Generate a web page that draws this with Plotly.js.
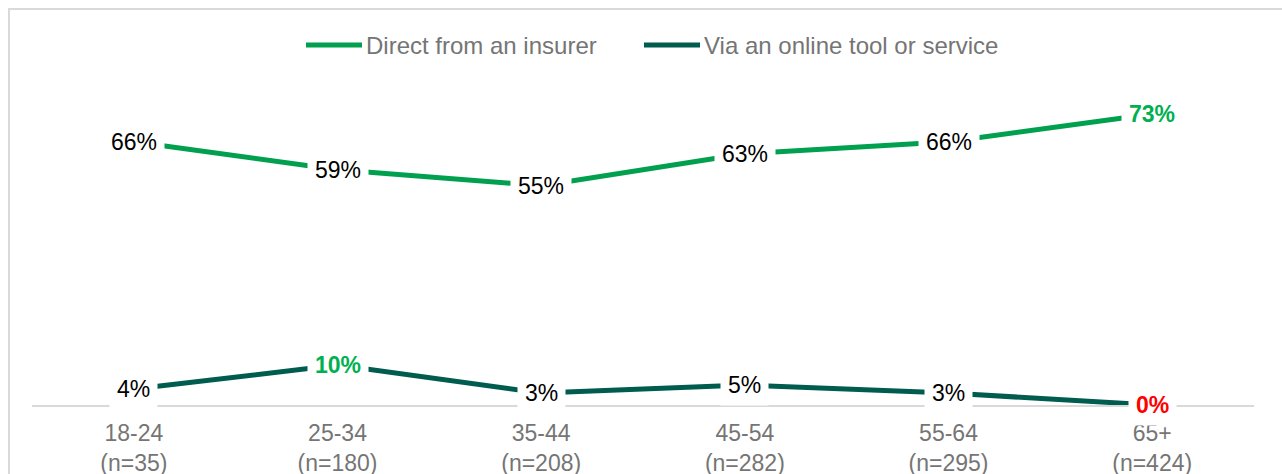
<!DOCTYPE html>
<html>
<head>
<meta charset="utf-8">
<script src="https://cdn.plot.ly/plotly-3.0.1.min.js"></script>
<style>
  html, body { margin: 0; padding: 0; background: #ffffff; overflow: hidden; }
  #frame { position: absolute; left: 8px; top: 8px; width: 1400px; height: 600px;
           border-left: 2px solid #d9d9d9; border-top: 2px solid #d9d9d9; }
  #chart { position: absolute; left: 0; top: 0; width: 1282px; height: 474px; }
</style>
</head>
<body>
<div id="frame"></div>
<div id="chart"></div>
<script>
// ---- data ----
const ageGroups = ["18-24", "25-34", "35-44", "45-54", "55-64", "65+"];
const sampleSizes = ["(n=35)", "(n=180)", "(n=208)", "(n=282)", "(n=295)", "(n=424)"];
const directFromInsurer = [66, 59, 55, 63, 66, 73];
const viaOnlineTool = [4, 10, 3, 5, 3, 0];
const seriesNames = ["Direct from an insurer", "Via an online tool or service"];

// ---- styles ----
const GREEN = "#00A04F";
const TEAL = "#005C4E";
const HILITE_GREEN = "#00B050";
const HILITE_RED = "#FF0000";
const FONT = "Liberation Sans, Arial, sans-serif";
const TEXT_GRAY = "#757575";
const highlights = [
  {5: HILITE_GREEN},
  {1: HILITE_GREEN, 5: HILITE_RED}
];

const W = 1282, H = 474;
const M = {l: 32, r: 28, t: 86, b: 69};
const plotW = W - M.l - M.r, plotH = H - M.t - M.b;
const px2paperX = px => (px - M.l) / plotW;
const px2paperY = py => (H - M.b - py) / plotH;

const seriesValues = [directFromInsurer, viaOnlineTool];
const seriesColors = [GREEN, TEAL];

const traces = seriesValues.map((vals, i) => ({
  type: "scatter",
  mode: "lines",
  name: seriesNames[i],
  x: ageGroups,
  y: vals,
  line: {color: seriesColors[i], width: 5},
  hoverinfo: "skip",
  showlegend: false
}));

const annotations = [];
seriesValues.forEach((vals, s) => {
  vals.forEach((v, j) => {
    const hl = highlights[s][j];
    annotations.push({
      x: ageGroups[j], y: v, xref: "x", yref: "y",
      text: hl ? "<b>" + v + "%</b>" : v + "%",
      showarrow: false,
      xanchor: "center", yanchor: "middle",
      bgcolor: "#ffffff",
      borderpad: 7,
      font: {family: FONT, size: 23, color: hl ? hl : "#000000"}
    });
  });
});

// custom legend (line sample + label)
const legendY = 45;
const legendStarts = [306, 644];
const shapes = [];
seriesNames.forEach((name, i) => {
  const x0 = legendStarts[i];
  shapes.push({
    type: "line", xref: "paper", yref: "paper",
    x0: px2paperX(x0), x1: px2paperX(x0 + 56),
    y0: px2paperY(legendY), y1: px2paperY(legendY),
    line: {color: seriesColors[i], width: 5}
  });
  annotations.push({
    xref: "paper", yref: "paper",
    x: px2paperX(x0 + 58), y: px2paperY(legendY),
    xanchor: "left", yanchor: "middle",
    text: name, showarrow: false,
    font: {family: FONT, size: 24, color: TEXT_GRAY}
  });
});

const layout = {
  width: W, height: H,
  margin: {l: M.l, r: M.r, t: M.t, b: M.b, pad: 0},
  paper_bgcolor: "rgba(0,0,0,0)",
  plot_bgcolor: "rgba(0,0,0,0)",
  font: {family: FONT, size: 23, color: TEXT_GRAY},
  showlegend: false,
  xaxis: {
    type: "category",
    range: [-0.5, ageGroups.length - 0.5],
    tickmode: "array",
    tickvals: ageGroups,
    ticktext: ageGroups.map((g, i) => g + "<br>" + sampleSizes[i]),
    showgrid: false, zeroline: false,
    showline: true, linecolor: "#d9d9d9", linewidth: 2,
    ticks: "", ticklabelstandoff: 6,
    tickfont: {family: FONT, size: 23, color: TEXT_GRAY},
    fixedrange: true
  },
  yaxis: {
    range: [0, 80], visible: false, showgrid: false, zeroline: false, fixedrange: true
  },
  shapes: shapes,
  annotations: annotations
};

Plotly.newPlot("chart", traces, layout, {displayModeBar: false, staticPlot: true});
</script>
</body>
</html>
